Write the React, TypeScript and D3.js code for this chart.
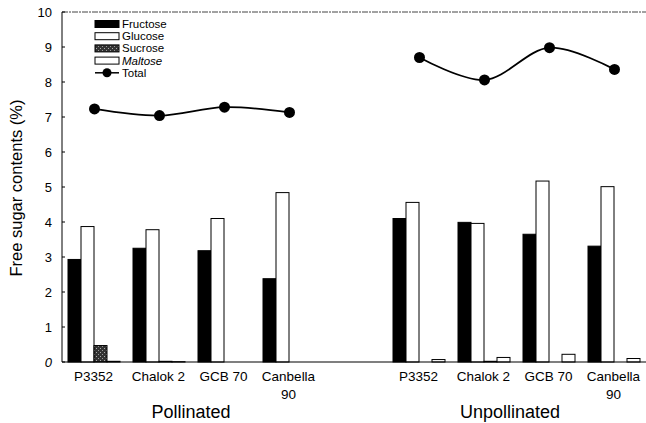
import React from "react";
import * as d3 from "d3";

const cultivars = ["P3352", "Chalok 2", "GCB 70", "Canbella 90"];
const treatments = ["Pollinated", "Unpollinated"];
const sugars = ["Fructose", "Glucose", "Sucrose", "Maltose"];

const fructose = [2.93, 3.25, 3.18, 2.38, 4.1, 3.99, 3.65, 3.31];
const glucose = [3.87, 3.78, 4.1, 4.84, 4.56, 3.96, 5.17, 5.01];
const sucrose = [0.47, 0.02, 0.0, 0.0, 0.0, 0.02, 0.0, 0.0];
const maltose = [0.02, 0.01, 0.0, 0.0, 0.07, 0.13, 0.22, 0.1];
const total = [7.23, 7.04, 7.28, 7.13, 8.7, 8.06, 8.98, 8.36];
const yTicks = [0, 1, 2, 3, 4, 5, 6, 7, 8, 9, 10];

const W = 646, H = 423;
const slots = d3.range(9);
const groupSlot = (g: number) => (g < 4 ? g : g + 1);

export default function App() {
  const x = d3.scaleBand<number>().domain(slots).range([62, 647]);
  const inner = d3.scaleBand<string>().domain(sugars).range([6, 58]);
  const y = d3.scaleLinear().domain([0, 10]).range([362, 12]);
  const series = [fructose, glucose, sucrose, maltose];
  const fills = ["#000", "#fff", "url(#spk)", "#fff"];

  const pts: [number, number][] = total.map((v, i) => [
    (x(groupSlot(i)) as number) + x.bandwidth() / 2,
    y(v),
  ]);
  const line = d3.line<[number, number]>().curve(d3.curveCatmullRom.alpha(0.5));
  const font = "Liberation Sans, Arial, sans-serif";
  const ls = 12.2;
  const l0 = 24;

  return (
    <svg width={W} height={H} style={{ position: "absolute", left: 0, top: 0 }} fontFamily={font}>
      <defs>
        <pattern id="spk" width="4" height="4" patternUnits="userSpaceOnUse">
          <rect width="4" height="4" fill="#333" />
          <rect x="0" y="0" width="1" height="1" fill="#aaa" />
          <rect x="2" y="2" width="1" height="1" fill="#999" />
        </pattern>
      </defs>
      <rect width={W} height={H} fill="#fff" />
      <line x1={62} x2={646} y1={12} y2={12} stroke="#444" strokeWidth={1} strokeDasharray="6,1,2,1" />
      <line x1={62} x2={62} y1={12} y2={362} stroke="#000" strokeWidth={1} />
      {series.map((s, si) =>
        s.map((v, gi) => {
          const bx = (x(groupSlot(gi)) as number) + (inner(sugars[si]) as number);
          return (
            <rect
              key={`${si}-${gi}`}
              x={bx}
              y={y(v)}
              width={inner.bandwidth()}
              height={362 - y(v)}
              fill={fills[si]}
              stroke="#000"
              strokeWidth={1}
            />
          );
        })
      )}
      <line x1={62} x2={646} y1={362} y2={362} stroke="#000" strokeWidth={1.2} />
      {yTicks.map((t) => (
        <g key={t}>
          <line x1={62} x2={65} y1={y(t)} y2={y(t)} stroke="#000" />
          <text x={52} y={y(t)} dy="0.35em" textAnchor="end" fontSize={13} fontStyle={t === 0 ? "italic" : "normal"}>
            {t}
          </text>
        </g>
      ))}
      <text transform={`translate(22,188) rotate(-90)`} textAnchor="middle" fontSize={16.5}>
        Free sugar contents (%)
      </text>
      {total.map((_, i) => {
        const cx = (x(groupSlot(i)) as number) + x.bandwidth() / 2;
        const name = cultivars[i % 4];
        const parts = name === "Canbella 90" ? ["Canbella", "90"] : [name];
        return (
          <text key={i} x={cx - 1} y={381} textAnchor="middle" fontSize={13.5}>
            {parts.map((p, k) => (
              <tspan key={k} x={cx - 1} dy={k === 0 ? 0 : 18}>
                {p}
              </tspan>
            ))}
          </text>
        );
      })}
      {treatments.map((t, i) => (
        <text key={t} x={i === 0 ? 191 : 510} y={417.5} textAnchor="middle" fontSize={18}>
          {t}
        </text>
      ))}
      <path d={line(pts.slice(0, 4)) || ""} fill="none" stroke="#000" strokeWidth={1.8} />
      <path d={line(pts.slice(4)) || ""} fill="none" stroke="#000" strokeWidth={1.8} />
      {pts.map((p, i) => (
        <circle key={i} cx={p[0]} cy={p[1]} r={5.5} fill="#000" />
      ))}
      <g fontSize={10.5}>
        {sugars.map((s, i) => (
          <g key={s}>
            <rect x={95} y={l0 - 3.5 + i * ls} width={24} height={7} fill={fills[i]} stroke="#000" strokeWidth={1} />
            <text x={122} y={l0 + i * ls} dy="0.35em" fontSize={11.5} fontStyle={s === "Maltose" ? "italic" : "normal"}>
              {s}
            </text>
          </g>
        ))}
        <line x1={95} x2={119} y1={l0 + 4 * ls} y2={l0 + 4 * ls} stroke="#000" strokeWidth={1.5} />
        <circle cx={107} cy={l0 + 4 * ls} r={4.5} fill="#000" />
        <text x={122} y={l0 + 4 * ls} dy="0.35em" fontSize={11.5}>
          Total
        </text>
      </g>
    </svg>
  );
}
